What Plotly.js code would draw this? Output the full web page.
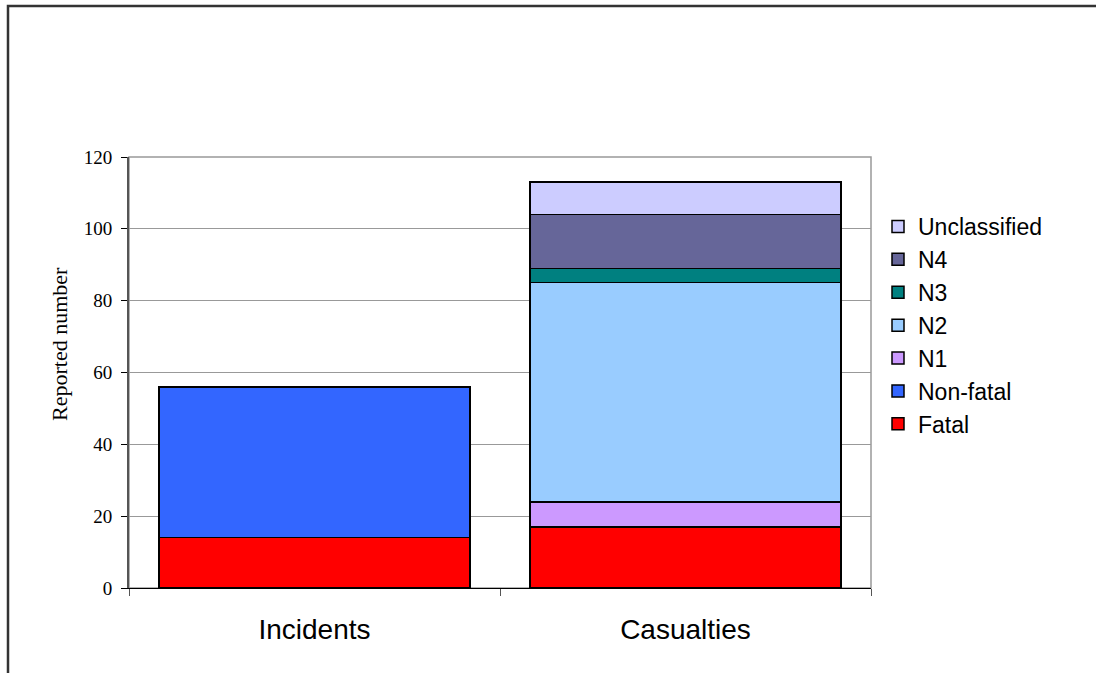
<!DOCTYPE html>
<html>
<head>
<meta charset="utf-8">
<script src="https://cdn.plot.ly/plotly-3.0.1.min.js"></script>
<style>
  html, body { margin: 0; padding: 0; background: #fff; overflow: hidden; }
  #chart { width: 1096px; height: 673px; overflow: hidden; }
</style>
</head>
<body>
<div id="chart"></div>
<script>
// Reported incidents and casualties, stacked by category
const categories = ['Incidents', 'Casualties'];
const fatal        = [14, 17];
const nonFatal     = [42, null];
const n1           = [null, 7];
const n2           = [null, 61];
const n3           = [null, 4];
const n4           = [null, 15];
const unclassified = [null, 9];
const yTicks = [0, 20, 40, 60, 80, 100, 120];
const yTitle = 'Reported number';

const series = [
  { name: 'Fatal',        values: fatal,        color: '#FF0000' },
  { name: 'Non-fatal',    values: nonFatal,     color: '#3366FF' },
  { name: 'N1',           values: n1,           color: '#CC99FF' },
  { name: 'N2',           values: n2,           color: '#99CCFF' },
  { name: 'N3',           values: n3,           color: '#008080' },
  { name: 'N4',           values: n4,           color: '#666699' },
  { name: 'Unclassified', values: unclassified, color: '#CCCCFF' }
];

const traces = series.map(s => ({
  type: 'bar',
  name: s.name,
  x: categories,
  y: s.values,
  marker: { color: s.color, line: { color: '#000', width: 1.5 } },
  hoverinfo: 'x+y+name'
}));

const W = 1096, H = 673;
const M = { l: 129, r: 225, t: 157, b: 85 };
const pw = W - M.l - M.r, ph = H - M.t - M.b;
// convert page pixels to paper coordinates for frame, legend and title placement
const px = v => (v - M.l) / pw;
const py = v => (H - M.b - v) / ph;

const serif = '"Liberation Serif", "Times New Roman", serif';
const sans = 'Arial, "Liberation Sans", sans-serif';

// outer frame: left and top edges as one open path
const framePath = 'M ' + px(8) + ',' + py(680) + ' L ' + px(8) + ',' + py(6) + ' L ' + px(1100) + ',' + py(6);

const layout = {
  width: W,
  height: H,
  margin: M,
  paper_bgcolor: '#fff',
  plot_bgcolor: '#fff',
  barmode: 'stack',
  bargap: 0.162,
  showlegend: true,
  legend: {
    x: px(878), xanchor: 'left',
    y: py(205), yanchor: 'top',
    traceorder: 'reversed',
    font: { family: sans, size: 23, color: '#000' },
    bgcolor: 'rgba(0,0,0,0)',
    itemwidth: 30
  },
  xaxis: {
    type: 'category',
    showgrid: false,
    showline: true,
    linecolor: '#000',
    linewidth: 1,
    ticks: 'outside',
    tickson: 'boundaries',
    ticklen: 7,
    tickcolor: '#555',
    tickfont: { family: sans, size: 28, color: '#000' },
    ticklabelstandoff: 16,
    zeroline: false,
    fixedrange: true
  },
  yaxis: {
    range: [0, 120],
    tickvals: yTicks,
    ticktext: yTicks.map(String),
    showgrid: true,
    gridcolor: '#999',
    gridwidth: 1,
    showline: true,
    linecolor: '#555',
    linewidth: 2,
    ticks: 'outside',
    ticklen: 6,
    tickcolor: '#000',
    tickfont: { family: serif, size: 19, color: '#000' },
    ticklabelstandoff: 5,
    zeroline: false,
    automargin: false,
    fixedrange: true
  },
  annotations: [
    { text: yTitle, textangle: -90, showarrow: false,
      xref: 'paper', yref: 'paper', x: px(59), y: py(344),
      xanchor: 'center', yanchor: 'middle',
      font: { family: serif, size: 22, color: '#000' } }
  ],
  shapes: [
    // plot area border
    { type: 'rect', xref: 'paper', yref: 'paper', x0: 0, x1: 1, y0: 0, y1: 1,
      line: { color: '#999', width: 1.5 }, layer: 'below' },
    { type: 'path', xref: 'paper', yref: 'paper', path: framePath,
      line: { color: '#333', width: 2.5 } }
  ]
};

Plotly.newPlot('chart', traces, layout, { displayModeBar: false, staticPlot: true });
</script>
</body>
</html>
